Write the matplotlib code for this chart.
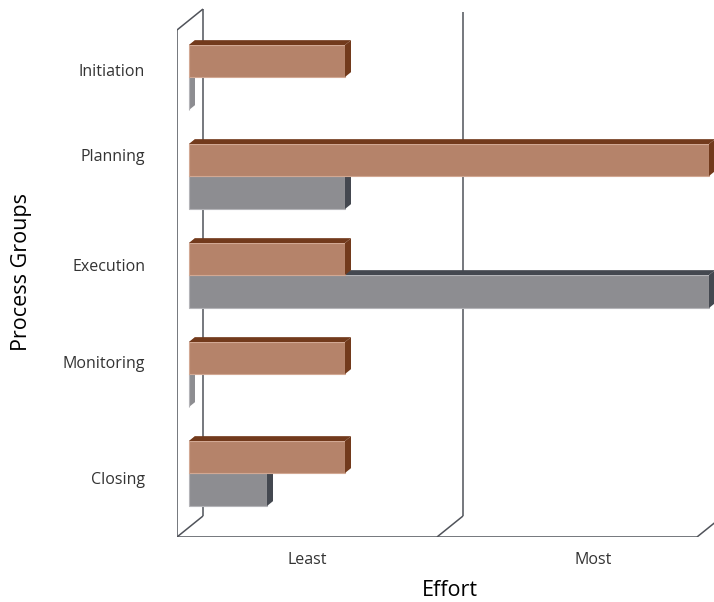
"""
3D-style clustered horizontal bars: effort per process group
"""

import matplotlib.pyplot as plt
from matplotlib.patches import Polygon

# data (top to bottom)
groups = ['Initiation', 'Planning', 'Execution', 'Monitoring', 'Closing']
series_a = [0.6, 2.0, 0.6, 0.6, 0.6]    # brown bars
series_b = [0.0, 0.6, 2.0, 0.0, 0.3]    # grey bars
effort_labels = ['Least', 'Most']

# colours: front, top/side, edge
brown = ('#b5836a', '#723a1c', '#d2a893')
grey = ('#8d8d91', '#444850', '#b4b4b8')
frame_col = '#50535a'

plt.rcParams['font.family'] = ['Open Sans', 'DejaVu Sans']

# pixel -> data units (axis set up so 1 unit = 260 px across, 99 px per group)
PX = 1.0 / 260
PY = 1.0 / 99


def off(d):
    # shift of a point that sits d px deeper in the box
    return d * PX, -d * (21.0 / 26) * PY


fig = plt.figure(figsize=(7.14, 6.02), dpi=100)
ax = fig.add_axes([177 / 714., 65 / 602., 537 / 714., 537 / 602.])
ax.set_xlim(-12 * PX, 525 * PX)
ax.set_ylim(460 * PY, -77 * PY)

# box frame
fx, _ = off(-12)
dxD, dyD = 26 * PX, -21 * PY
U = 460 * PY
T = -47 * PY
kw = dict(color=frame_col, lw=1.1, zorder=1, solid_capstyle='butt')
ax.plot([fx, fx], [U, T], **kw)
ax.plot([fx, fx + dxD], [T, T + dyD], **kw)
ax.plot([fx + dxD, fx + dxD], [T + dyD, U + dyD], **kw)
ax.plot([fx, 2 + fx], [U, U], **kw)
for v in [0, 1, 2]:
    ax.plot([v + fx, v + fx + dxD], [U, U + dyD], **kw)
for v in [1, 2]:
    ax.plot([v + fx + dxD, v + fx + dxD], [U + dyD, T + dyD + 3 * PY], **kw)


def bar3d(val, y_top, h, cols, z):
    front, dark, edge = cols
    ox, oy = off(6)
    y_bot = y_top + h
    # left end (shows only for empty bars)
    ax.add_patch(Polygon([(0, y_top), (0, y_bot), (ox, y_bot + oy), (ox, y_top + oy)],
                         closed=True, fc=front, ec='none', zorder=z))
    ax.barh(y_top + h / 2, val, height=h, left=0, color=front,
            edgecolor=edge, linewidth=0.8, zorder=z + 0.1)
    if val > 0:
        ax.add_patch(Polygon([(0, y_top), (val, y_top), (val + ox, y_top + oy), (ox, y_top + oy)],
                             closed=True, fc=dark, ec='none', zorder=z + 0.2))
        ax.add_patch(Polygon([(val, y_top), (val, y_bot), (val + ox, y_bot + oy), (val + ox, y_top + oy)],
                             closed=True, fc=dark, ec='none', zorder=z + 0.2))


h_a = 32 * PY
h_b = 33 * PY
for i in range(len(groups)):
    bar3d(series_b[i], i, h_b, grey, 2 + i)
    bar3d(series_a[i], i - h_a, h_a, brown, 2.5 + i)

# label offsets (px) as they sit in the original layout
label_shift = [-7, -21, -10, -12, 5]
ax.set_yticks([i + label_shift[i] * PY for i in range(len(groups))])
ax.set_yticklabels(groups, fontsize=11.5, color='#333333')
ax.set_xticks([0.5 + fx, 1.6 + fx])
ax.set_xticklabels(effort_labels, fontsize=11.5, color='#333333')
ax.tick_params(axis='y', length=0, pad=23)
ax.tick_params(axis='x', length=0, pad=11)
for s in ax.spines.values():
    s.set_visible(False)
ax.patch.set_alpha(0)

fig.text(22 / 714., 1 - 272 / 602., 'Process Groups', rotation=90, fontsize=15.5,
         ha='center', va='center', color='black')
fig.text(450 / 714., 1 - 590 / 602., 'Effort', fontsize=15.5,
         ha='center', va='center', color='black')

fig.savefig('out.png', dpi=100)
